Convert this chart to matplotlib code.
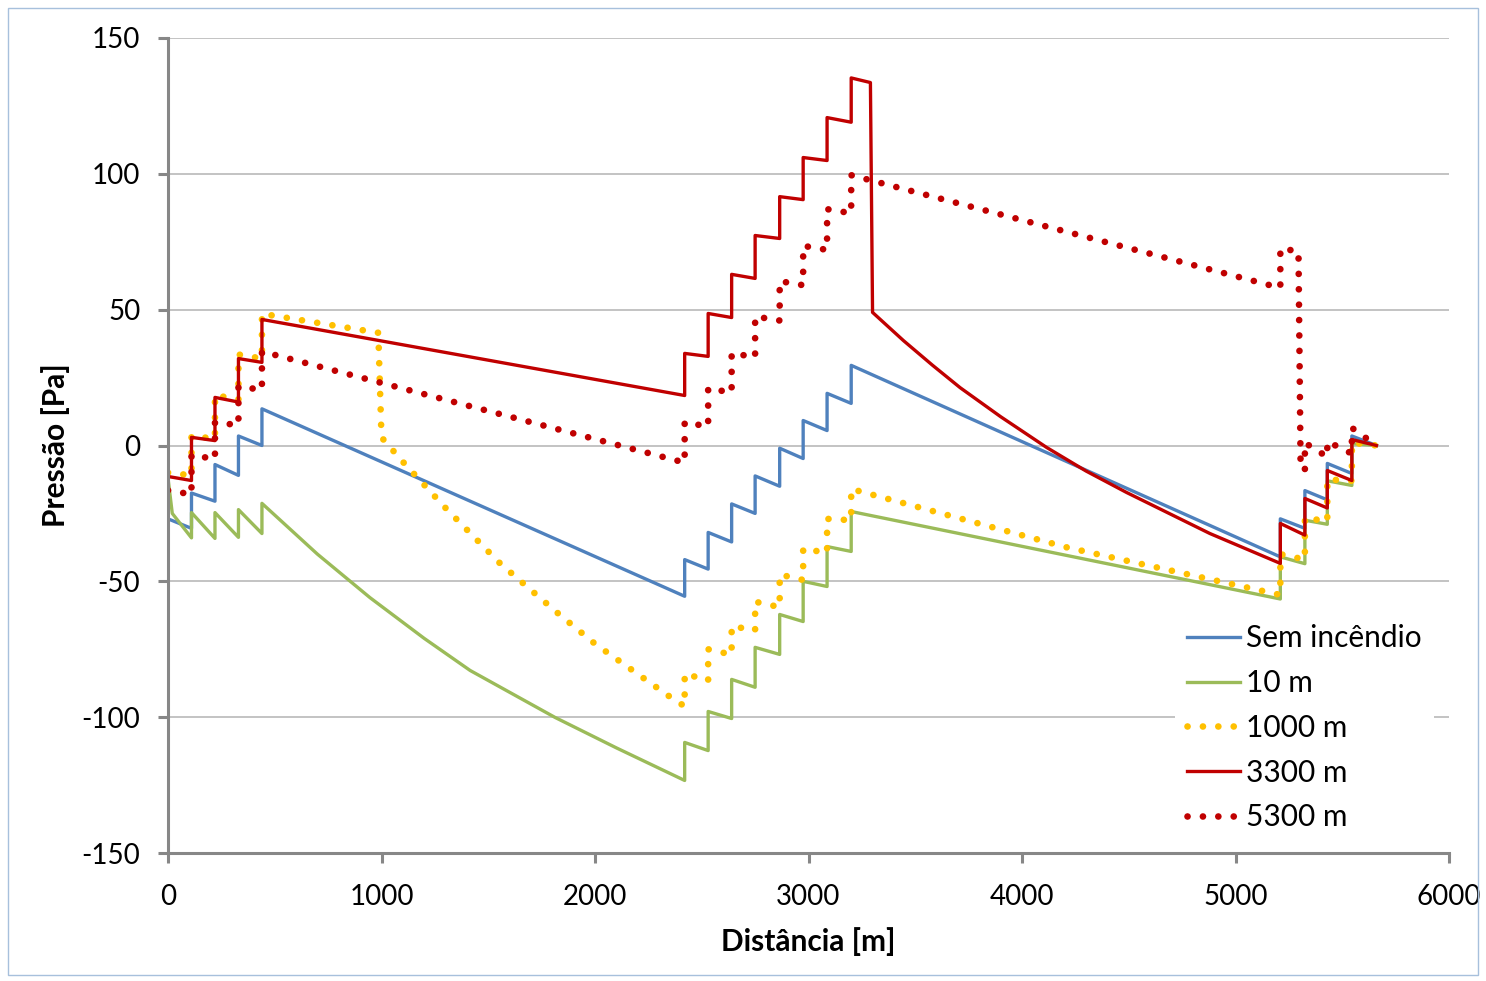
import matplotlib
matplotlib.use("Agg")
from matplotlib import pyplot as plt
from matplotlib.patches import Rectangle

plt.rcParams["font.family"] = ["Lato", "DejaVu Sans"]
plt.rcParams["axes.unicode_minus"] = False

# pressure profiles (distance in m, pressure in Pa)
x_sem = [0, 110, 110, 220, 220, 330, 330, 440, 440, 2420, 2420, 2530, 2530, 2640, 2640,
         2750, 2750, 2865, 2865, 2975, 2975, 3087, 3087, 3200, 3200, 5210, 5210, 5325, 5325,
         5430, 5430, 5545, 5545, 5660]
y_sem = [-27, -30.5, -17.5, -20.5, -7, -11, 3.5, 0, 13.5, -55.5, -42, -45.5, -32, -35.5, -21.5,
         -25, -11.2, -15, -1, -4.8, 9.2, 5.5, 19.2, 15.5, 29.5, -41, -27, -30.5, -16.6,
         -20, -6.6, -10.3, 3.5, 0]

x_10 = [0, 20, 110, 110, 220, 220, 330, 330, 440, 440, 700, 946, 1200, 1415, 1813, 2100,
        2420, 2420, 2530, 2530, 2640, 2640, 2750, 2750, 2865, 2865, 2975, 2975, 3087, 3087,
        3200, 3200, 5210, 5210, 5325, 5325, 5430, 5430, 5545, 5545, 5660]
y_10 = [-12, -25, -34, -24.7, -34.2, -24.7, -33.8, -23.6, -32.4, -21.3, -40, -56, -71, -82.8,
        -100.1, -111.3, -123.3, -109.3, -112.3, -97.9, -100.5, -86.1, -89, -74.3, -76.9,
        -62.2, -64.8, -50, -51.9, -37.2, -39, -24.3, -56.5, -41, -43.5, -27.5, -29, -13,
        -14.7, 0.7, 0]

x_1000 = [0, 110, 110, 220, 220, 330, 330, 440, 440, 985, 1000, 1100, 1200, 1300, 1400,
          1550, 1660, 1830, 2000, 2180, 2360, 2420, 2420, 2530, 2530, 2640, 2640, 2750,
          2750, 2865, 2865, 2975, 2975, 3087, 3087, 3200, 3200, 4210, 5210, 5210, 5325,
          5325, 5430, 5430, 5545, 5545, 5660]
y_1000 = [-10, -11, 3.5, 2.5, 18.5, 17, 33.5, 32, 48.5, 41.5, 3, -6, -14.5, -23, -31,
          -43, -50.5, -62, -73, -83, -93, -96, -84, -86.5, -75, -77, -66.5, -68,
          -57.5, -59.5, -47.5, -49.5, -38, -39.5, -27, -27.5, -16, -37.5, -55, -40, -42,
          -26.5, -28, -12.5, -13, 1, 0]

x_3300 = [0, 110, 110, 220, 220, 330, 330, 440, 440, 2420, 2420, 2530, 2530, 2640, 2640,
          2750, 2750, 2865, 2865, 2975, 2975, 3087, 3087, 3200, 3200, 3290, 3300, 3445,
          3580, 3710, 3900, 4115, 4300, 4490, 4880, 5210, 5210, 5325, 5325, 5430, 5430,
          5545, 5545, 5660]
y_3300 = [-11.4, -12.9, 3, 1.8, 17.7, 16, 32, 30.6, 46.4, 18.4, 33.9, 32.8, 48.6, 47.1, 63,
          61.5, 77.3, 76.2, 91.6, 90.5, 106, 104.9, 120.7, 119, 135.3, 133.6, 49, 38.6,
          29.6, 21.3, 10.6, -0.7, -9.4, -17.3, -32.4, -43.4, -28.7, -33, -19.5, -23, -9.2,
          -12.9, 2.2, 0]

x_5300 = [0, 110, 110, 220, 220, 330, 330, 440, 440, 2420, 2420, 2530, 2530, 2640, 2640,
          2750, 2750, 2865, 2865, 2975, 2975, 3087, 3087, 3200, 3200, 5210, 5210, 5295,
          5305, 5325, 5325, 5430, 5430, 5545, 5545, 5660]
y_5300 = [-16.5, -18, -3.5, -5, 8.5, 7.5, 21.7, 20.5, 34.6, -6.3, 8.5, 7, 21, 19.5, 34,
          32.5, 47.5, 46, 60.5, 59, 73.5, 72, 87, 85.5, 99.5, 58, 72.5, 71.5,
          -8.5, -9, 1, -4.2, 1.5, -3, 6.5, 0]

labels = ["Sem incêndio", "10 m", "1000 m", "3300 m", "5300 m"]
colors = ["#4f81bd", "#9bbb59", "#ffc000", "#c00000", "#c00000"]

fig = plt.figure(figsize=(14.86, 9.81), dpi=100)
ax = fig.add_axes([168 / 1486, 1 - 853 / 981, 1281 / 1486, 815 / 981])

dots = (0, (0.01, 2.3))
ax.plot(x_sem, y_sem, color=colors[0], lw=2.4, label=labels[0])
ax.plot(x_10, y_10, color=colors[1], lw=2.4, label=labels[1])
ax.plot(x_1000, y_1000, color=colors[2], lw=4.8, ls=dots, dash_capstyle="round", label=labels[2])
ax.plot(x_3300, y_3300, color=colors[3], lw=2.4, label=labels[3])
ax.plot(x_5300, y_5300, color=colors[4], lw=4.8, ls=dots, dash_capstyle="round", label=labels[4])

ax.set_xlim(0, 6000)
ax.set_ylim(-150, 150)
ax.set_xticks(range(0, 6001, 1000))
ax.set_yticks(range(-150, 151, 50))
ax.grid(axis="y", color="#b3b3b3", lw=1.1)
ax.set_axisbelow(True)
for s in ["top", "right"]:
    ax.spines[s].set_visible(False)
for s in ["left", "bottom"]:
    ax.spines[s].set_color("#878787")
    ax.spines[s].set_linewidth(2.2)
ax.tick_params(length=7, width=2.2, color="#878787", labelsize=20)
ax.tick_params(axis="y", pad=13)
ax.tick_params(axis="x", pad=15)

ax.set_xlabel("Distância [m]", fontsize=21.5, fontweight="bold", va="center")
ax.xaxis.set_label_coords(0.5, -0.109)
ax.set_ylabel("Pressão [Pa]", fontsize=21.5, fontweight="bold", va="center")
ax.yaxis.set_label_coords(-0.088, 0.5)

leg = ax.legend(loc="upper left", bbox_to_anchor=(1160 / 1486, 1 - 597 / 981),
                bbox_transform=fig.transFigure, fontsize=21.5, frameon=True,
                facecolor="white", edgecolor="none", framealpha=1, fancybox=False,
                handlelength=1.77, handletextpad=0.2, labelspacing=0.56, borderpad=0.42)

fig.patches.append(Rectangle((8 / 1486, 1 - 975 / 981), 1470 / 1486, 967 / 981,
                             transform=fig.transFigure, fill=False,
                             edgecolor="#a7c0dc", lw=1))

fig.savefig("out.png", dpi=100)
